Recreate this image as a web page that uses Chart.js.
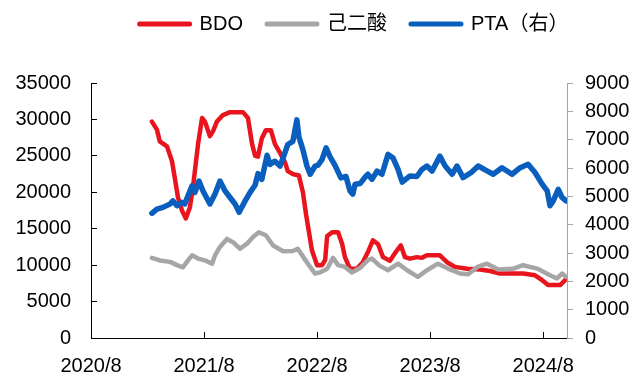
<!DOCTYPE html>
<html>
<head>
<meta charset="utf-8">
<script src="https://cdn.jsdelivr.net/npm/chart.js@4.4.1/dist/chart.umd.min.js"></script>
<style>
  html, body { margin: 0; padding: 0; background: #fff; }
</style>
</head>
<body>
<canvas id="chart" width="636" height="376"></canvas>
<script>
const FONT = "'Liberation Sans', Arial, 'Noto Sans CJK SC', sans-serif"

// x axis runs from 2020/8 to mid Oct 2024, one tick per year
const X_START = '2020-08-01'
const X_END = '2024-10-17'
const xTickLabels = ['2020/8', '2021/8', '2022/8', '2023/8', '2024/8']

const leftMax = 35000, leftStep = 5000
const rightMax = 9000, rightStep = 1000

// BDO, yuan/ton (left axis)
const bdoDates = [
  '2021-02-15', '2021-03-01', '2021-03-10', '2021-04-03', '2021-04-19', '2021-04-28',
  '2021-05-08', '2021-05-21', '2021-06-03', '2021-06-16', '2021-06-26', '2021-07-12',
  '2021-07-25', '2021-08-04', '2021-08-20', '2021-08-30', '2021-09-12', '2021-10-01',
  '2021-10-24', '2021-12-05', '2021-12-21', '2022-01-04', '2022-01-14', '2022-01-23',
  '2022-02-05', '2022-02-18', '2022-03-04', '2022-03-17', '2022-04-03', '2022-04-19',
  '2022-04-28', '2022-05-14', '2022-06-03', '2022-06-16', '2022-06-26', '2022-07-15',
  '2022-08-01', '2022-08-17', '2022-08-27', '2022-09-03', '2022-09-19', '2022-10-08',
  '2022-10-21', '2022-10-30', '2022-11-16', '2022-12-08', '2022-12-27', '2023-01-13',
  '2023-01-29', '2023-02-15', '2023-03-01', '2023-03-23', '2023-04-15', '2023-04-28',
  '2023-05-11', '2023-05-27', '2023-06-19', '2023-07-05', '2023-07-21', '2023-09-02',
  '2023-09-25', '2023-10-20', '2023-11-29', '2024-01-10', '2024-02-12', '2024-03-14',
  '2024-05-27', '2024-07-05', '2024-07-28', '2024-08-17', '2024-09-25', '2024-10-11'
]
const bdoValues = [
  29700, 28600, 27000, 26300, 24300, 22000,
  19300, 17500, 16400, 17900, 20700, 26600,
  30200, 29700, 27700, 28400, 29700, 30600,
  31000, 31000, 30200, 26600, 25000, 24900,
  27400, 28500, 28500, 26600, 25400, 24100,
  22900, 22500, 22300, 20000, 17000, 12000,
  10000, 10000, 10700, 14000, 14500, 14500,
  12900, 11100, 9500, 9500, 10400, 11800,
  13400, 12900, 11100, 10600, 12000, 12700,
  11100, 10900, 11100, 11000, 11350, 11350,
  10400, 9760, 9500, 9400, 9200, 8850,
  8850, 8600, 7940, 7260, 7260, 7940
]

// adipic acid, yuan/ton (left axis)
const adipicDates = [
  '2021-02-15', '2021-03-10', '2021-04-13', '2021-05-05', '2021-05-24', '2021-06-10',
  '2021-06-23', '2021-07-12', '2021-08-04', '2021-08-27', '2021-09-06', '2021-09-22',
  '2021-10-14', '2021-11-03', '2021-11-26', '2021-12-18', '2022-01-07', '2022-01-26',
  '2022-02-18', '2022-03-11', '2022-04-13', '2022-05-14', '2022-05-30', '2022-06-19',
  '2022-07-09', '2022-07-25', '2022-08-10', '2022-09-03', '2022-09-22', '2022-10-08',
  '2022-10-30', '2022-11-22', '2022-12-18', '2023-01-13', '2023-01-26', '2023-02-21',
  '2023-03-17', '2023-04-19', '2023-05-18', '2023-06-22', '2023-07-21', '2023-08-26',
  '2023-09-28', '2023-11-06', '2023-12-02', '2024-01-01', '2024-02-02', '2024-03-08',
  '2024-04-25', '2024-05-27', '2024-07-12', '2024-08-23', '2024-09-15', '2024-10-01',
  '2024-10-14'
]
const adipicValues = [
  11000, 10650, 10450, 10000, 9700, 10650,
  11350, 10900, 10650, 10200, 11350, 12500,
  13600, 13150, 12250, 12950, 13850, 14500,
  14100, 12700, 11900, 11950, 12250, 11000,
  9750, 8850, 9000, 9500, 11000, 10000,
  9760, 9000, 9600, 10700, 10900, 9900,
  9300, 10200, 9300, 8400, 9300, 10200,
  9530, 8850, 8750, 9760, 10200, 9400,
  9500, 9990, 9530, 8620, 8170, 8850,
  8400
]

// PTA, yuan/ton (right axis)
const ptaDates = [
  '2021-02-15', '2021-03-01', '2021-03-20', '2021-04-13', '2021-04-22', '2021-05-05',
  '2021-05-21', '2021-05-30', '2021-06-10', '2021-06-23', '2021-07-02', '2021-07-15',
  '2021-07-28', '2021-08-20', '2021-09-06', '2021-09-22', '2021-10-08', '2021-10-24',
  '2021-11-10', '2021-11-23', '2021-12-12', '2021-12-28', '2022-01-14', '2022-01-23',
  '2022-02-05', '2022-02-22', '2022-03-01', '2022-03-17', '2022-04-03', '2022-04-13',
  '2022-04-28', '2022-05-14', '2022-05-27', '2022-06-03', '2022-06-16', '2022-06-29',
  '2022-07-09', '2022-07-25', '2022-08-04', '2022-08-17', '2022-08-30', '2022-09-12',
  '2022-09-28', '2022-10-17', '2022-11-03', '2022-11-16', '2022-11-25', '2022-12-02',
  '2022-12-18', '2023-01-07', '2023-01-13', '2023-01-26', '2023-02-12', '2023-02-28',
  '2023-03-17', '2023-04-03', '2023-04-19', '2023-05-02', '2023-05-27', '2023-06-19',
  '2023-07-05', '2023-07-21', '2023-08-07', '2023-09-02', '2023-09-19', '2023-10-11',
  '2023-10-27', '2023-11-16', '2023-12-12', '2024-01-04', '2024-02-02', '2024-02-22',
  '2024-03-20', '2024-04-22', '2024-05-18', '2024-06-13', '2024-07-05', '2024-07-28',
  '2024-08-14', '2024-08-23', '2024-09-03', '2024-09-19', '2024-10-01', '2024-10-14'
]
const ptaValues = [
  4400, 4550, 4610, 4730, 4840, 4670,
  4790, 4730, 5020, 5370, 5140, 5540,
  5190, 4730, 5080, 5540, 5190, 4960,
  4730, 4440, 4840, 5140, 5400, 5800,
  5600, 6450, 6130, 6240, 6070, 6360,
  6830, 6940, 7700, 7100, 6650, 6070,
  5780, 6070, 6100, 6300, 6710, 6400,
  6100, 5650, 5700, 5190, 5080, 5430,
  5450, 5720, 5780, 5600, 5890, 5780,
  6480, 6350, 5950, 5500, 5720, 5700,
  5950, 6070, 5890, 6420, 6070, 5780,
  6070, 5660, 5840, 6070, 5900, 5780,
  6010, 5780, 6010, 6130, 5840, 5430,
  5190, 4670, 4840, 5250, 4960, 4840
]

// months elapsed since X_START, used as the linear x value
function monthIndex(date) {
  const [y, m, d] = date.split('-').map(Number)
  const [y0, m0] = X_START.split('-').map(Number)
  return (y - y0) * 12 + (m - m0) + (d - 1) / 30.4
}

function toPoints(dates, values) {
  return dates.map((d, i) => ({ x: monthIndex(d), y: values[i] }))
}

const lineStyle = {
  pointRadius: 0,
  pointHoverRadius: 0,
  tension: 0,
  borderCapStyle: 'round',
  borderJoinStyle: 'round',
  fill: false,
}

const tickFont = { family: FONT, size: 20 }

// plot box: left 91, right 567, top 83, bottom 340
// the negative right padding pushes the centred legend to the right
const PAD_RIGHT = -72

new Chart(document.getElementById('chart'), {
  type: 'line',
  data: {
    datasets: [
      { label: 'BDO', data: toPoints(bdoDates, bdoValues), yAxisID: 'y',
        borderColor: '#E8141E', borderWidth: 4.5, order: 3, ...lineStyle },
      { label: '己二酸', data: toPoints(adipicDates, adipicValues), yAxisID: 'y',
        borderColor: '#A6A6A6', borderWidth: 4.5, order: 2, ...lineStyle },
      { label: 'PTA（右）', data: toPoints(ptaDates, ptaValues), yAxisID: 'y1',
        borderColor: '#0A5FBE', borderWidth: 5.5, order: 1, ...lineStyle },
    ]
  },
  options: {
    responsive: false,
    animation: false,
    events: [],
    layout: { padding: { top: -10, left: 0, right: PAD_RIGHT, bottom: 0 } },
    plugins: {
      tooltip: { enabled: false },
      legend: {
        position: 'top',
        labels: {
          font: { family: FONT, size: 20 },
          color: '#000',
          padding: 24,
          usePointStyle: true,
          pointStyleWidth: 50,
          generateLabels: chart => chart.data.datasets.map((ds, i) => ({
            text: ds.label,
            datasetIndex: i,
            fillStyle: ds.borderColor,
            strokeStyle: ds.borderColor,
            fontColor: '#000',
            lineWidth: 5,
            lineCap: 'round',
            pointStyle: 'line',
            hidden: false,
          })),
        }
      },
      // empty title keeps a gap between the legend and the plot
      title: {
        display: true,
        text: '',
        weight: 500,
        font: { size: 10, lineHeight: 1.2 },
        padding: { top: 27, bottom: 0 },
      },
    },
    scales: {
      x: {
        type: 'linear',
        position: 'bottom',
        min: 0,
        max: monthIndex(X_END),
        afterBuildTicks: axis => {
          axis.ticks = xTickLabels.map((_, i) => ({ value: i * 12 }))
        },
        afterFit: scale => { scale.height = 36 },
        ticks: {
          callback: (v, i) => xTickLabels[i],
          font: tickFont,
          color: '#000',
          padding: 22,
          maxRotation: 0,
          autoSkip: false,
        },
        grid: { drawOnChartArea: false, tickLength: -6, tickColor: '#000' },
        border: { color: '#000', width: 1 },
      },
      y: {
        position: 'left',
        min: 0,
        max: leftMax,
        afterFit: scale => { scale.width = 91 },
        ticks: {
          stepSize: leftStep,
          callback: v => String(v),
          font: tickFont,
          color: '#000',
          padding: 26,
        },
        grid: { drawOnChartArea: false, tickLength: -6, tickColor: '#000' },
        border: { color: '#000', width: 1 },
      },
      y1: {
        position: 'right',
        min: 0,
        max: rightMax,
        afterFit: scale => { scale.width = 636 - PAD_RIGHT - 567 },
        ticks: {
          stepSize: rightStep,
          callback: v => String(v),
          font: tickFont,
          color: '#000',
          padding: 12,
        },
        grid: { drawOnChartArea: false, tickLength: 6, tickColor: '#A6A6A6' },
        border: { color: '#A6A6A6', width: 1 },
      },
    }
  }
})
</script>
</body>
</html>
